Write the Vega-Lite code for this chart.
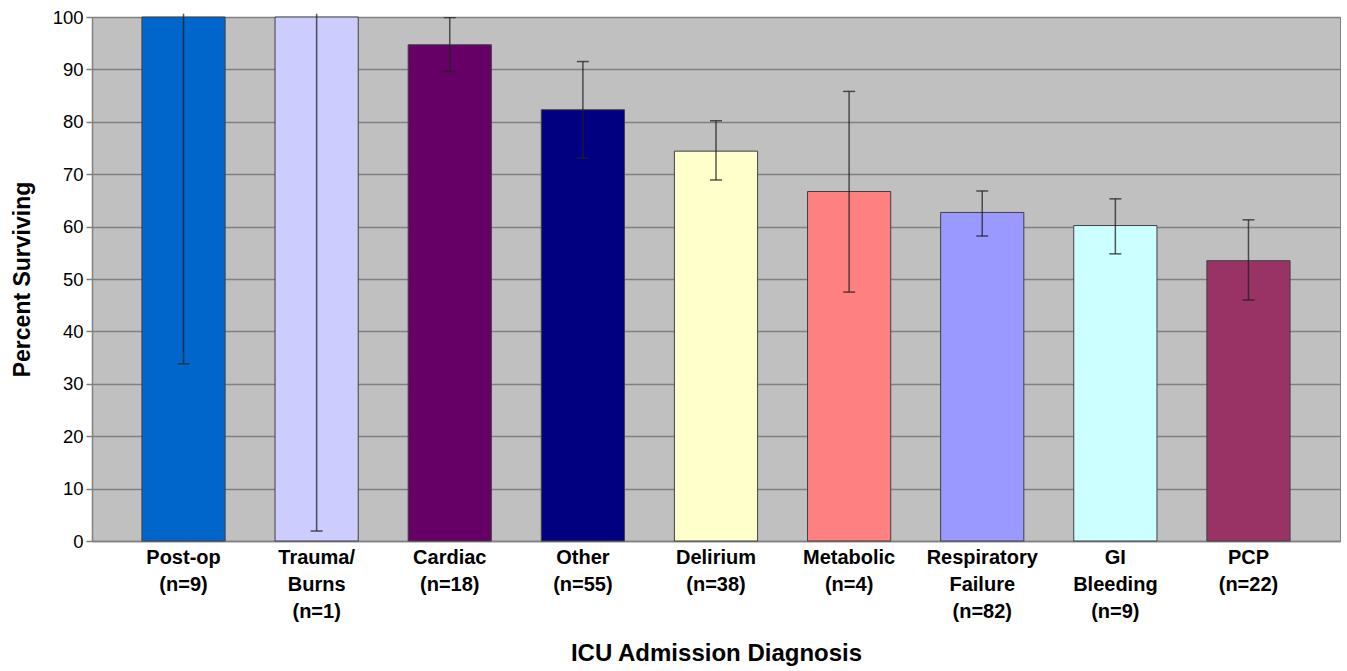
{
  "$schema": "https://vega.github.io/schema/vega-lite/v6.json",
  "width": 1248,
  "height": 524,
  "autosize": {"type": "none"},
  "padding": {"left": 92, "top": 17, "right": 7, "bottom": 130},
  "background": "white",
  "config": {
    "view": {"fill": "#C0C0C0", "stroke": "#808080", "strokeWidth": 1},
    "font": "Liberation Sans"
  },
  "data": {
    "values": [
      {"dx": "Post-op|(n=9)", "pct": 100, "lo": 33.8, "hi": 100.6, "color": "#0066CC"},
      {"dx": "Trauma/|Burns|(n=1)", "pct": 100, "lo": 1.9, "hi": 100.6, "color": "#CCCCFF"},
      {"dx": "Cardiac|(n=18)", "pct": 94.7, "lo": 89.6, "hi": 99.9, "color": "#660066"},
      {"dx": "Other|(n=55)", "pct": 82.3, "lo": 73.1, "hi": 91.5, "color": "#000080"},
      {"dx": "Delirium|(n=38)", "pct": 74.4, "lo": 68.9, "hi": 80.2, "color": "#FFFFCC"},
      {"dx": "Metabolic|(n=4)", "pct": 66.7, "lo": 47.5, "hi": 85.8, "color": "#FF8080"},
      {"dx": "Respiratory|Failure|(n=82)", "pct": 62.7, "lo": 58.2, "hi": 66.8, "color": "#9999FF"},
      {"dx": "GI|Bleeding|(n=9)", "pct": 60.2, "lo": 54.8, "hi": 65.3, "color": "#CCFFFF"},
      {"dx": "PCP|(n=22)", "pct": 53.5, "lo": 46.0, "hi": 61.3, "color": "#993366"}
    ]
  },
  "encoding": {
    "x": {
      "field": "dx", "type": "nominal", "sort": null,
      "scale": {"paddingInner": 0.375, "paddingOuter": 0.375},
      "axis": {
        "title": "ICU Admission Diagnosis",
        "titleFont": "Liberation Sans", "titleFontSize": 24, "titleFontWeight": "bold", "titleColor": "black",
        "titlePadding": 20,
        "labelExpr": "split(datum.value, '|')",
        "labelAngle": 0, "labelFont": "Liberation Sans", "labelFontSize": 20, "labelFontWeight": "bold",
        "labelColor": "black", "labelLineHeight": 27, "labelPadding": 6,
        "ticks": false, "domainColor": "#808080", "domainWidth": 1.5, "grid": false
      }
    }
  },
  "layer": [
    {
      "mark": {"type": "bar", "stroke": "#404040", "strokeWidth": 1},
      "encoding": {
        "y": {
          "field": "pct", "type": "quantitative",
          "scale": {"domain": [0, 100]},
          "axis": {
            "title": "Percent Surviving",
            "titleFont": "Liberation Sans", "titleFontSize": 23, "titleFontWeight": "bold", "titleColor": "black",
            "titlePadding": 18,
            "values": [0, 10, 20, 30, 40, 50, 60, 70, 80, 90, 100],
            "labelFont": "Liberation Sans", "labelFontSize": 18.5, "labelColor": "black", "labelPadding": 3,
            "tickSize": 6, "tickColor": "#808080", "tickWidth": 1.5,
            "domainColor": "#808080", "domainWidth": 1.5,
            "grid": true, "gridColor": "#808080", "gridWidth": 1.5
          }
        },
        "fill": {"field": "color", "type": "nominal", "scale": null}
      }
    },
    {
      "mark": {"type": "rule", "color": "#222222", "opacity": 0.75, "strokeWidth": 1.5},
      "encoding": {
        "y": {"field": "lo", "type": "quantitative"},
        "y2": {"field": "hi"}
      }
    },
    {
      "mark": {"type": "tick", "color": "#222222", "opacity": 0.75, "thickness": 1.5, "size": 12, "clip": true},
      "encoding": {"y": {"field": "lo", "type": "quantitative"}}
    },
    {
      "mark": {"type": "tick", "color": "#222222", "opacity": 0.75, "thickness": 1.5, "size": 12, "clip": true},
      "encoding": {"y": {"field": "hi", "type": "quantitative"}}
    }
  ]
}
